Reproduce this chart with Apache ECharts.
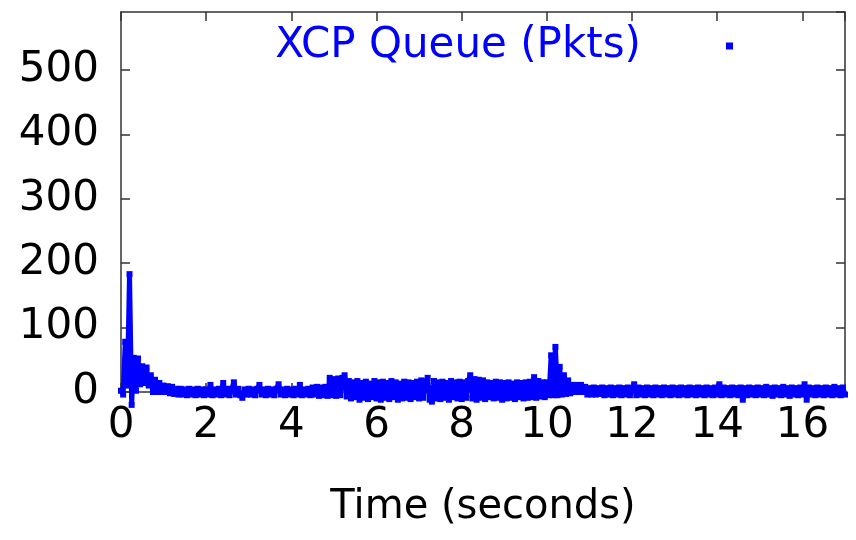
<!DOCTYPE html>
<html>

<head>
    <meta charset="utf-8">
    <script src="https://cdn.jsdelivr.net/npm/echarts@6/dist/echarts.min.js"></script>
    <style>
        html, body { margin: 0; padding: 0; background: #fff; }
        #main { width: 856px; height: 540px; }
    </style>
</head>

<body>
    <div id="main"></div>
    <script type="text/javascript">

        // axis ranges / tick labels
        var xTicks = [0, 2, 4, 6, 8, 10, 12, 14, 16];
        var yTicks = [0, 100, 200, 300, 400, 500];
        var xMax = 17;
        var yMax = 590;

        var seriesName = 'XCP Queue (Pkts)';
        var sampleStep = 0.05; // seconds between samples

        // queue length, one row per second (20 samples each)
        var queue = [
            2, -4, 78, 10, 183, -20, 53, 2, 52, 12, 40, 14, 38, 10, 26, 0, 19, 0, 14, 0,          // 0 s
            10, 0, 9, -2, 8, -3, 5, -4, 5, -4, 4, -5, 5, -4, 4, -5, 5, -4, 4, -5,                 // 1 s
            4, -4, 11, -5, 4, -4, 5, -5, 14, -4, 5, -5, 4, 15, -4, 5, -5, -9, 4, -4,              // 2 s
            5, -4, 4, -5, 5, 11, -4, 4, -5, 5, -4, 4, -5, 5, 12, -4, 4, -5, 5, -4,                // 3 s
            4, -5, 5, -4, 11, -5, 4, -4, 5, -5, 7, -4, 8, -6, 7, -5, 8, -6, 22, -5,               // 4 s
            20, -6, 21, -5, 22, 26, -7, 17, -10, 15, -8, 17, -12, 14, -9, 16, -11, 13, -8, 17,   // 5 s
            -10, 15, -12, 16, -9, 14, -11, 17, -8, 15, -12, 13, -10, 16, -9, 15, -11, 14, -8, 16, // 6 s
            -10, 18, -9, 16, 22, -12, -15, 17, -10, 15, -11, 16, -9, 14, -12, 17, -8, 15, -10, 16, // 7 s
            -11, 15, -9, 17, 26, -10, 20, -12, 19, -9, 18, -11, 15, -8, 14, -10, 16, -9, 15, -12, // 8 s
            14, -10, 15, -9, 13, -11, 15, -8, 14, -10, 15, -9, 16, -8, 23, -9, 17, -7, 15, -8,    // 9 s
            15, -5, 57, -5, 70, -5, 39, -4, 26, -3, 18, -2, 11, 0, 11, 0, 11, 0, 8, -4,           // 10 s
            6, -4, 7, -4, 6, -3, 7, -5, 6, -4, 7, -5, 6, -4, 7, -5, 6, -4, 7, -5,                 // 11 s
            6, 12, -5, 7, -4, 6, -5, 7, -4, 6, -5, 7, -4, 6, -5, 7, -4, 6, -5, 7,                 // 12 s
            -4, 6, -5, 7, -4, 6, -5, 7, -4, 6, -5, 7, -4, 6, -5, 7, -4, 6, -5, 7,                 // 13 s
            -4, 12, -5, 7, -4, 6, -5, 7, -4, 6, -5, 7, -12, 6, -5, 7, -4, 6, -5, 7,               // 14 s
            -4, 6, -5, 8, -4, 6, -6, 7, -4, 6, -5, 8, -4, 6, -6, 7, -4, 6, -5, 7,                 // 15 s
            -4, 12, -12, 7, -4, 6, -5, 7, -4, 6, -5, 7, -4, 6, -5, 8, -4, 6, -5, 7,               // 16 s
            -4                                                                                    // 17 s
        ];

        var points = queue.map(function (v, i) {
            return [+(i * sampleStep).toFixed(2), v];
        });

        var frameColor = '#333';
        var labelFont = 'DejaVu Sans';

        var chart = echarts.init(document.getElementById('main'), null, { renderer: 'canvas' });

        var xBase = {
            type: 'value', min: 0, max: xMax, interval: xTicks[1] - xTicks[0],
            splitLine: { show: false },
            axisLine: { show: true, onZero: false, lineStyle: { color: frameColor, width: 1.5 } },
            axisTick: { show: true, inside: true, length: 9, lineStyle: { color: frameColor, width: 1.5 } }
        };
        var yBase = {
            type: 'value', min: 0, max: yMax, interval: yTicks[1] - yTicks[0],
            splitLine: { show: false },
            axisLine: { show: true, onZero: false, lineStyle: { color: frameColor, width: 1.5 } },
            axisTick: { show: true, inside: true, length: 9, lineStyle: { color: frameColor, width: 1.5 } }
        };

        chart.setOption({
            animation: false,
            backgroundColor: '#fff',
            grid: { left: 121, right: 11, top: 12, bottom: 148 },
            legend: {
                data: [seriesName],
                right: 118, top: 20,
                align: 'right',
                icon: 'rect', itemWidth: 7, itemHeight: 7,
                textStyle: { color: '#0000ff', fontFamily: labelFont, fontSize: 42, padding: [0, 80, 0, 0] }
            },
            xAxis: [
                Object.assign({}, xBase, {
                    position: 'bottom',
                    name: 'Time (seconds)', nameLocation: 'middle', nameGap: 96,
                    nameTextStyle: { color: '#000', fontFamily: labelFont, fontSize: 40 },
                    axisLabel: {
                        color: '#000', fontFamily: labelFont, fontSize: 42, margin: 13,
                        showMaxLabel: false
                    }
                }),
                Object.assign({}, xBase, { position: 'top', axisLabel: { show: false } })
            ],
            yAxis: [
                Object.assign({}, yBase, {
                    position: 'left',
                    axisLabel: {
                        color: '#000', fontFamily: labelFont, fontSize: 42, margin: 22,
                        showMaxLabel: false
                    }
                }),
                Object.assign({}, yBase, { position: 'right', axisLabel: { show: false } })
            ],
            series: [{
                name: seriesName,
                type: 'line',
                data: points,
                clip: false,
                color: '#0000ff',
                symbol: 'rect', symbolSize: 6,
                showSymbol: true, showAllSymbol: true,
                lineStyle: { width: 5, color: '#0000ff', join: 'bevel' },
                itemStyle: { color: '#0000ff' },
                emphasis: { disabled: true }
            }]
        });
    </script>
</body>

</html>
